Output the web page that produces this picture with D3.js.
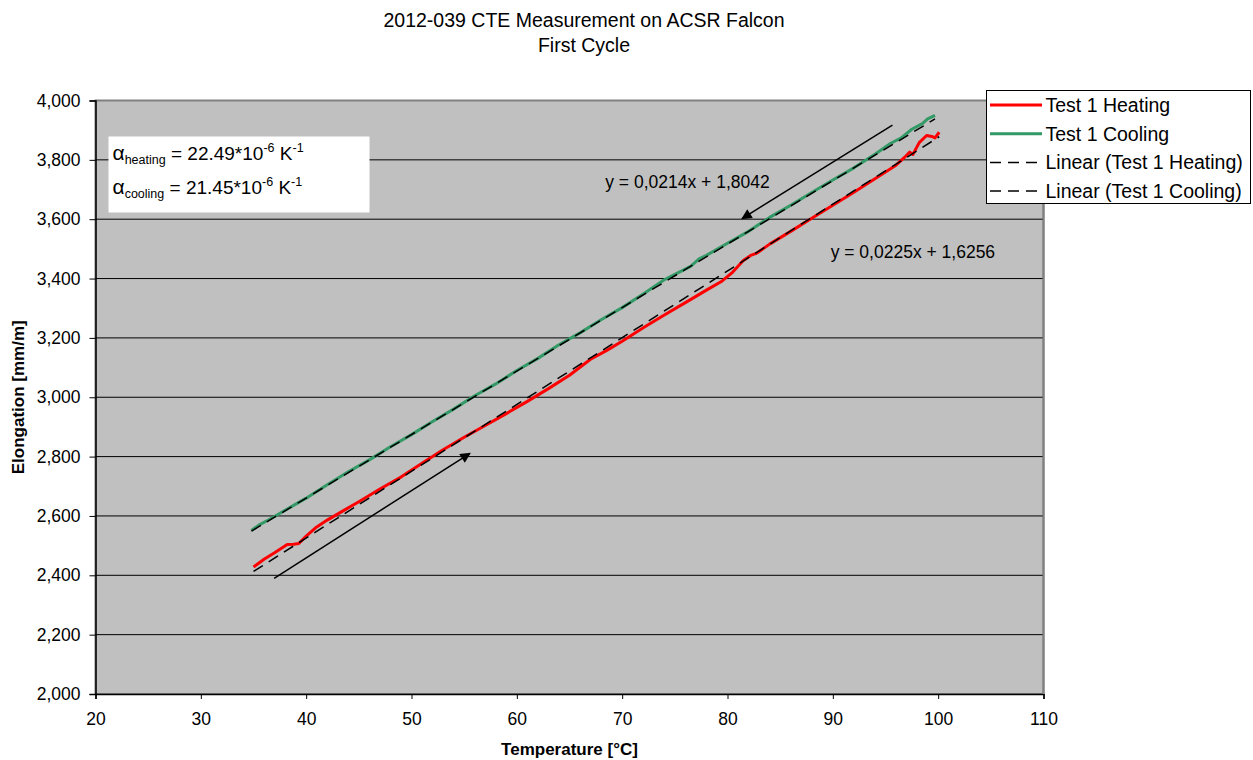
<!DOCTYPE html>
<html>
<head>
<meta charset="utf-8">
<script src="https://cdn.jsdelivr.net/npm/d3@7"></script>
<style>
  body { margin: 0; background: #fff; }
  svg { display: block; }
  text { font-family: Arial, "Liberation Sans", sans-serif; fill: #000; }
</style>
</head>
<body>
<div id="chart"></div>
<script>
// Test 1 heating: temperature [°C] and elongation
const heatTemp = [35.0, 36, 37, 38.2, 38.8, 39.3, 40, 41, 42, 43.5, 45, 47, 49, 51, 53, 55, 57, 59, 61, 63, 65, 67, 68.5, 70, 72, 74, 76, 78, 79.5, 80.5, 81.5, 82.2, 82.8, 84, 86, 88, 90, 92, 94, 96, 96.8, 97.3, 97.6, 98.2, 98.9, 99.4, 99.7, 100.1]
const heatElong = [2428, 2454, 2476, 2504, 2505, 2507, 2532, 2563, 2586, 2617, 2648, 2691, 2731, 2778, 2823, 2865, 2905, 2945, 2986, 3029, 3074, 3128, 3157, 3189, 3234, 3277, 3319, 3361, 3392, 3422, 3461, 3478, 3486, 3516, 3559, 3603, 3647, 3691, 3736, 3782, 3808, 3826, 3818, 3858, 3882, 3879, 3874, 3893]

// Test 1 cooling
const coolTemp = [34.8, 35.5, 36.5, 38, 40, 42, 44, 46, 48, 50, 52, 54, 56, 58, 60, 62, 64, 66, 68, 70, 72, 74, 75, 76.5, 77.3, 78, 80, 82, 84, 86, 88, 90, 92, 94, 95.5, 96.5, 97.5, 98.5, 99, 99.7]
const coolElong = [2551, 2569, 2588, 2619, 2660, 2705, 2749, 2789, 2833, 2874, 2918, 2960, 3005, 3045, 3090, 3131, 3177, 3217, 3261, 3302, 3348, 3396, 3414, 3441, 3466, 3478, 3519, 3559, 3606, 3647, 3690, 3732, 3773, 3819, 3856, 3874, 3903, 3922, 3938, 3950]

// linear trendlines (Excel, y in thousands)
const trendSlope = [0.0225, 0.0214]
const trendIntercept = [1.6256, 1.8042]
const trendLabels = ["y = 0,0225x + 1,6256", "y = 0,0214x + 1,8042"]
const trendLabelPos = [[97.6, 3489], [76.2, 3727]]

// direction arrows [from, to]
const arrowHeat = [[36.96, 2390], [55.55, 2811]]
const arrowCool = [[95.66, 3917], [81.38, 3602]]

const legendNames = ["Test 1 Heating", "Test 1 Cooling", "Linear (Test 1 Heating)", "Linear (Test 1 Cooling)"]
const xTicks = [20, 30, 40, 50, 60, 70, 80, 90, 100, 110]
const yTicks = [2000, 2200, 2400, 2600, 2800, 3000, 3200, 3400, 3600, 3800, 4000]

const RED = "#ff0000"
const GREEN = "#339966"
const DASH = "11,7"

const width = 1253, height = 760
const margin = { top: 100.5, right: 209.5, bottom: 66, left: 95.5 }
const innerW = width - margin.left - margin.right
const innerH = height - margin.top - margin.bottom

const svg = d3.select("#chart").append("svg")
  .attr("width", width).attr("height", height)

const defs = svg.append("defs")
defs.append("marker")
  .attr("id", "head")
  .attr("viewBox", "0 0 10 10")
  .attr("refX", 9).attr("refY", 5)
  .attr("markerWidth", 8).attr("markerHeight", 7)
  .attr("markerUnits", "strokeWidth")
  .attr("orient", "auto")
  .append("path").attr("d", "M0,0 L10,5 L0,10 Z").attr("fill", "#000")

const x = d3.scaleLinear().domain([20, 110]).range([0, innerW])
const y = d3.scaleLinear().domain([2000, 4000]).range([innerH, 0])

const g = svg.append("g").attr("transform", `translate(${margin.left},${margin.top})`)

// plot area
g.append("rect")
  .attr("width", innerW).attr("height", innerH)
  .attr("fill", "#c0c0c0")
  .attr("stroke", "#808080").attr("stroke-width", 2)

// gridlines
g.append("g").selectAll("line")
  .data(yTicks.slice(1, -1))
  .enter().append("line")
  .attr("x1", 0).attr("x2", innerW)
  .attr("y1", d => y(d)).attr("y2", d => y(d))
  .attr("stroke", "#000").attr("stroke-width", 1)

// axes
const xAxis = g.append("g")
  .attr("transform", `translate(0,${innerH})`)
  .call(d3.axisBottom(x).tickValues(xTicks).tickSize(5).tickPadding(14).tickFormat(d3.format("d")))
const yAxis = g.append("g")
  .call(d3.axisLeft(y).tickValues(yTicks).tickSize(6).tickPadding(9).tickFormat(d3.format(",")))
;[xAxis, yAxis].forEach(a => {
  a.selectAll(".domain").attr("stroke", "#000").attr("stroke-width", 1.5)
  a.selectAll(".tick line").attr("stroke", "#000")
  a.selectAll("text").attr("font-size", "17.5px").attr("fill", "#000")
    .attr("font-family", 'Arial, "Liberation Sans", sans-serif')
})
// right part of the plot border stays grey
g.append("line").attr("x1", innerW).attr("x2", innerW).attr("y1", 0).attr("y2", innerH)
  .attr("stroke", "#808080").attr("stroke-width", 2)

// series
const line = d3.line().x(d => x(d[0])).y(d => y(d[1]))
const heat = heatTemp.map((t, i) => [t, heatElong[i]])
const cool = coolTemp.map((t, i) => [t, coolElong[i]])

g.append("path").datum(heat).attr("d", line)
  .attr("fill", "none").attr("stroke", RED).attr("stroke-width", 3).attr("stroke-linejoin", "round")
g.append("path").datum(cool).attr("d", line)
  .attr("fill", "none").attr("stroke", GREEN).attr("stroke-width", 3).attr("stroke-linejoin", "round")

// trendlines
;[heat, cool].forEach((s, i) => {
  const x0 = d3.min(s, d => d[0]), x1 = d3.max(s, d => d[0])
  const pts = [x0, x1].map(t => [t, (trendSlope[i] * t + trendIntercept[i]) * 1000])
  g.append("path").datum(pts).attr("d", line)
    .attr("fill", "none").attr("stroke", "#000").attr("stroke-width", 1.5)
    .attr("stroke-dasharray", DASH)
  g.append("text")
    .attr("x", x(trendLabelPos[i][0])).attr("y", y(trendLabelPos[i][1]))
    .attr("dy", "0.35em").attr("text-anchor", "middle")
    .attr("font-size", "17.5px")
    .text(trendLabels[i])
})

// arrows
;[arrowHeat, arrowCool].forEach(a => {
  g.append("line")
    .attr("x1", x(a[0][0])).attr("y1", y(a[0][1]))
    .attr("x2", x(a[1][0])).attr("y2", y(a[1][1]))
    .attr("stroke", "#000").attr("stroke-width", 1.5)
    .attr("marker-end", "url(#head)")
})

// alpha box
const ab = svg.append("g").attr("transform", "translate(108.5,136.5)")
ab.append("rect").attr("width", 261).attr("height", 76).attr("fill", "#fff")
const alphaRows = [["heating", "22.49"], ["cooling", "21.45"]]
alphaRows.forEach((r, i) => {
  const t = ab.append("text").attr("x", 4).attr("y", 23 + i * 34).attr("font-size", "19px")
  t.append("tspan").attr("font-size", "21px").text("α")
  t.append("tspan").attr("font-size", "12.5px").attr("dy", 4).text(r[0])
  t.append("tspan").attr("dy", -4).text(" = " + r[1] + "*10")
  t.append("tspan").attr("font-size", "12.5px").attr("dy", -8).text("-6")
  t.append("tspan").attr("dy", 8).text(" K")
  t.append("tspan").attr("font-size", "12.5px").attr("dy", -8).text("-1")
})

// legend
const lg = svg.append("g").attr("transform", "translate(986.5,90.5)")
lg.append("rect").attr("width", 264).attr("height", 113)
  .attr("fill", "#fff").attr("stroke", "#000").attr("stroke-width", 1)
const legendStyle = [
  { stroke: RED, w: 3, dash: null },
  { stroke: GREEN, w: 3, dash: null },
  { stroke: "#000", w: 1.5, dash: DASH },
  { stroke: "#000", w: 1.5, dash: DASH }
]
legendNames.forEach((n, i) => {
  const yy = 14.5 + i * 28.7
  lg.append("line").attr("x1", 3.5).attr("x2", 55.5).attr("y1", yy).attr("y2", yy)
    .attr("stroke", legendStyle[i].stroke).attr("stroke-width", legendStyle[i].w)
    .attr("stroke-dasharray", legendStyle[i].dash)
  lg.append("text").attr("x", 59).attr("y", yy).attr("dy", "0.35em")
    .attr("font-size", "19.5px").text(n)
})

// titles
const title = svg.append("text").attr("x", 584).attr("text-anchor", "middle").attr("font-size", "19.5px")
title.append("tspan").attr("x", 584).attr("y", 27).text("2012-039 CTE Measurement on ACSR Falcon")
title.append("tspan").attr("x", 584).attr("y", 52).text("First Cycle")

svg.append("text")
  .attr("x", margin.left + innerW / 2).attr("y", 755)
  .attr("text-anchor", "middle").attr("font-size", "17px").attr("font-weight", "bold")
  .text("Temperature [°C]")
svg.append("text")
  .attr("transform", `translate(24,${margin.top + innerH / 2}) rotate(-90)`)
  .attr("text-anchor", "middle").attr("font-size", "17px").attr("font-weight", "bold")
  .text("Elongation [mm/m]")
</script>
</body>
</html>
